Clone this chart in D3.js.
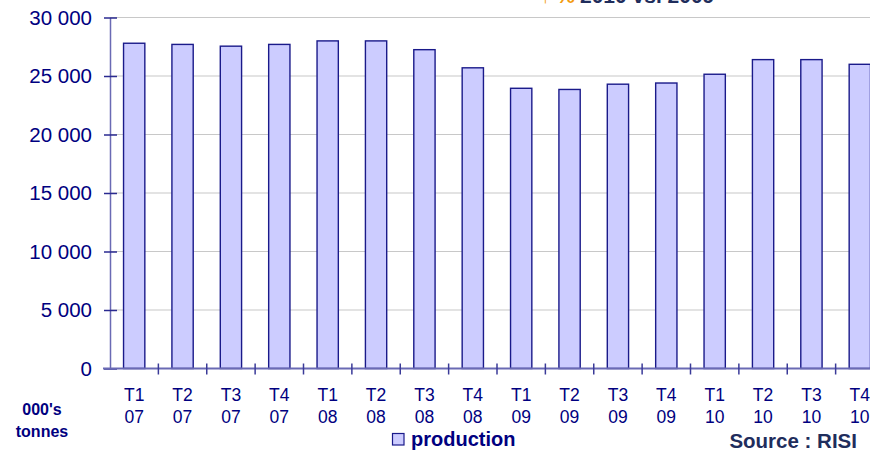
<!DOCTYPE html>
<html>
<head>
<meta charset="utf-8">
<script src="https://cdn.jsdelivr.net/npm/d3@7"></script>
<style>
  body { margin: 0; background: #fff; }
  svg { display: block; font-family: "Liberation Sans", Arial, sans-serif; }
</style>
</head>
<body>
<svg id="chart" width="870" height="450"></svg>
<script>
// quarterly production, 000's tonnes
var quarters = ["T1", "T2", "T3", "T4", "T1", "T2", "T3", "T4", "T1", "T2", "T3", "T4", "T1", "T2", "T3", "T4"];
var years = ["07", "07", "07", "07", "08", "08", "08", "08", "09", "09", "09", "09", "10", "10", "10", "10"];
var production = [27800, 27700, 27550, 27700, 28000, 28000, 27250, 25700, 23950, 23850, 24300, 24400, 25150, 26400, 26400, 26000];
var yTicks = [0, 5000, 10000, 15000, 20000, 25000, 30000];

var navy = "#000080";
var svg = d3.select("#chart");
var ids = d3.range(production.length);

// the plot runs past the right edge of the picture, as in the original
var x = d3.scaleBand().domain(ids).range([110, 884]);
var y = d3.scaleLinear().domain([0, 30000]).range([368.5, 17.5]);

var fmt = function(v) { return d3.format(",")(v).replace(",", " "); };

// gridlines
svg.append("g")
  .selectAll("line")
  .data(yTicks.slice(1))
  .enter().append("line")
  .attr("x1", 110).attr("x2", 870)
  .attr("y1", function(d) { return y(d); })
  .attr("y2", function(d) { return y(d); })
  .attr("stroke", "#c8c8c8")
  .attr("stroke-width", 1.2);

// bars
var bw = x.bandwidth() * 0.44;
svg.append("g")
  .selectAll("rect")
  .data(production)
  .enter().append("rect")
  .attr("x", function(d, i) { return x(i) + (x.bandwidth() - bw) / 2; })
  .attr("y", function(d) { return y(d); })
  .attr("width", bw)
  .attr("height", function(d) { return y(0) - y(d); })
  .attr("fill", "#ccccff")
  .attr("stroke", "#1a1a8a")
  .attr("stroke-width", 1.4);

// y axis
var yAxis = svg.append("g").attr("transform", "translate(110,0)")
  .call(d3.axisLeft(y).tickValues(yTicks).tickFormat(fmt).tickSizeInner(6).tickSizeOuter(0).tickPadding(12));
yAxis.select(".domain").attr("stroke", "#6a6ab4").attr("stroke-width", 1.5);
yAxis.selectAll(".tick line").attr("x2", 7).attr("x1", -6).attr("stroke", "#2a2a90").attr("stroke-width", 1.5);
yAxis.selectAll(".tick text").attr("fill", navy).attr("font-size", 20.5);

// x axis with cross ticks between categories
svg.append("line")
  .attr("x1", 103).attr("x2", 870)
  .attr("y1", y(0)).attr("y2", y(0))
  .attr("stroke", "#6a6ab4").attr("stroke-width", 2);
svg.append("g")
  .selectAll("line")
  .data(ids.slice(1))
  .enter().append("line")
  .attr("x1", function(d) { return x(d); })
  .attr("x2", function(d) { return x(d); })
  .attr("y1", y(0) - 5).attr("y2", y(0) + 6)
  .attr("stroke", "#3a3a98").attr("stroke-width", 1.5);

var lab = svg.append("g")
  .selectAll("text")
  .data(ids)
  .enter().append("text")
  .attr("text-anchor", "middle")
  .attr("fill", navy)
  .attr("font-size", 17.5)
  .attr("x", function(d) { return x(d) + x.bandwidth() / 2; });
lab.append("tspan").attr("y", 401).text(function(d) { return quarters[d]; })
  .attr("x", function(d) { return x(d) + x.bandwidth() / 2; });
lab.append("tspan").attr("y", 423).text(function(d) { return years[d]; })
  .attr("x", function(d) { return x(d) + x.bandwidth() / 2; });

// unit label
svg.append("text").attr("x", 42).attr("y", 415).attr("text-anchor", "middle")
  .attr("font-weight", "bold").attr("font-size", 16).attr("fill", navy).text("000's");
svg.append("text").attr("x", 42).attr("y", 437).attr("text-anchor", "middle")
  .attr("font-weight", "bold").attr("font-size", 16).attr("fill", navy).text("tonnes");

// legend
svg.append("rect").attr("x", 392.5).attr("y", 433.5).attr("width", 11.5).attr("height", 11.5)
  .attr("fill", "#ccccff").attr("stroke", "#1a1a8a").attr("stroke-width", 1.2);
svg.append("text").attr("x", 411).attr("y", 446).attr("font-weight", "bold")
  .attr("font-size", 20).attr("fill", navy).text("production");

// source
svg.append("text").attr("x", 857).attr("y", 448).attr("text-anchor", "end")
  .attr("font-weight", "bold").attr("font-size", 20.5).attr("fill", "#1f2d5c").text("Source : RISI");

// title, mostly cut off at the top
var title = svg.append("g").attr("font-weight", "bold").attr("font-size", 21);
title.append("text").attr("x", 540).attr("y", 3).attr("fill", "#f39c12").text("↑ %");
title.append("text").attr("x", 580).attr("y", 3).attr("fill", "#1f2d5c").text("2010 vs. 2009");
</script>
</body>
</html>
